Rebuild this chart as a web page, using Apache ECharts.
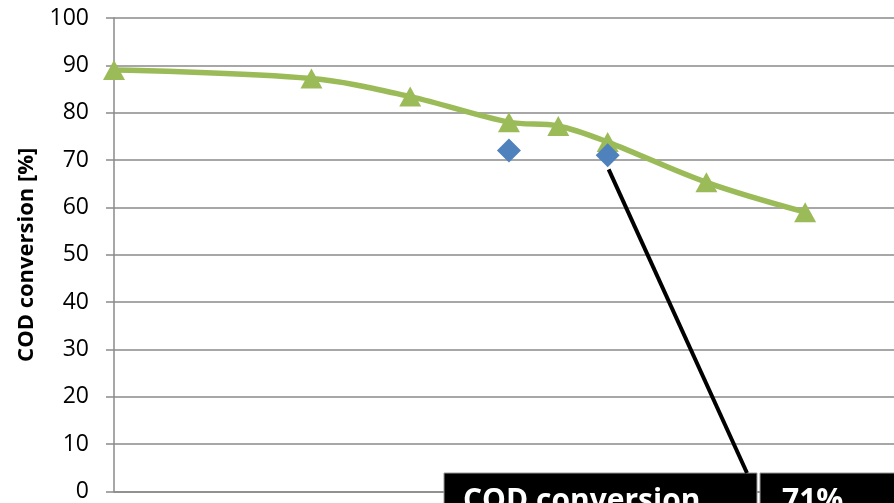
<!DOCTYPE html>
<html>
<head>
<meta charset="utf-8">
<script src="https://cdn.jsdelivr.net/npm/echarts@6/dist/echarts.min.js"></script>
<style>
html,body{margin:0;padding:0;background:#fff;}
#chart{width:894px;height:503px;}
</style>
</head>
<body>
<div id="chart"></div>
<script>
// ---- data ----
const xValues = [0, 4, 6, 8, 9, 10, 12, 14];
const codConversion = [89, 87.2, 83.4, 78, 77.2, 73.8, 65.3, 59];
const measuredX = [8, 10];
const measuredValues = [72, 71];
const yMin = 0, yMax = 100, yInterval = 10;
const axisTitle = 'COD conversion [%]';
const tableLabel = 'COD conversion';
const tableValue = '71%';

const green = '#9BBB59';
const blue = '#4F81BD';
const gridColor = '#8a8a8a';
const font = '"Open Sans", "Liberation Sans", Arial, sans-serif';

const chart = echarts.init(document.getElementById('chart'), null, {renderer: 'canvas'});

const option = {
  animation: false,
  backgroundColor: '#fff',
  grid: {left: 114, top: 18, right: 0, height: 475, containLabel: false},
  xAxis: {
    type: 'value', min: 0, max: 15.8,
    axisLine: {show: true, lineStyle: {color: gridColor, width: 1.5}},
    axisTick: {show: false},
    axisLabel: {show: false},
    splitLine: {show: false}
  },
  yAxis: {
    type: 'value', min: yMin, max: yMax, interval: yInterval,
    name: axisTitle,
    nameLocation: 'middle',
    nameGap: 76,
    nameTextStyle: {fontFamily: font, fontWeight: 'bold', fontSize: 22, color: '#000'},
    axisLine: {show: true, lineStyle: {color: gridColor, width: 1.5}},
    axisTick: {show: true, length: 8, lineStyle: {color: gridColor, width: 1.5}},
    axisLabel: {margin: 25, fontFamily: font, fontSize: 23, color: '#000'},
    splitLine: {show: true, lineStyle: {color: gridColor, width: 1.5}}
  },
  series: [
    {
      type: 'line',
      data: xValues.map((x, i) => [x, codConversion[i]]),
      smooth: 0.35,
      symbol: 'triangle',
      symbolSize: [22, 20],
      lineStyle: {color: green, width: 5.5},
      itemStyle: {color: green},
      z: 2
    },
    {
      type: 'scatter',
      data: measuredX.map((x, i) => [x, measuredValues[i]]),
      symbol: 'diamond',
      symbolSize: [24, 24],
      itemStyle: {color: blue, opacity: 1},
      z: 3
    }
  ]
};
chart.setOption(option);

const p = chart.convertToPixel({seriesIndex: 1}, [measuredX[1], measuredValues[1]]);
const boxFont = 'bold 30px "Open Sans", "Liberation Sans", Arial, sans-serif';
chart.setOption({
  graphic: [
    {type: 'rect', shape: {x: 444, y: 473, width: 313, height: 40}, style: {fill: '#000', stroke: '#999', lineWidth: 1}, z: 10},
    {type: 'rect', shape: {x: 760, y: 473, width: 150, height: 40}, style: {fill: '#000', stroke: '#999', lineWidth: 1}, z: 10},
    {type: 'text', x: 463, y: 501, style: {text: tableLabel, fill: '#fff', font: boxFont, verticalAlign: 'middle', align: 'left'}, z: 11},
    {type: 'text', x: 782, y: 501, style: {text: tableValue, fill: '#fff', font: boxFont, verticalAlign: 'middle', align: 'left'}, z: 11},
    {type: 'line', shape: {x1: p[0] + 1, y1: p[1] + 14, x2: 747, y2: 473}, style: {stroke: '#000', lineWidth: 4}, z: 12}
  ]
});
</script>
</body>
</html>
